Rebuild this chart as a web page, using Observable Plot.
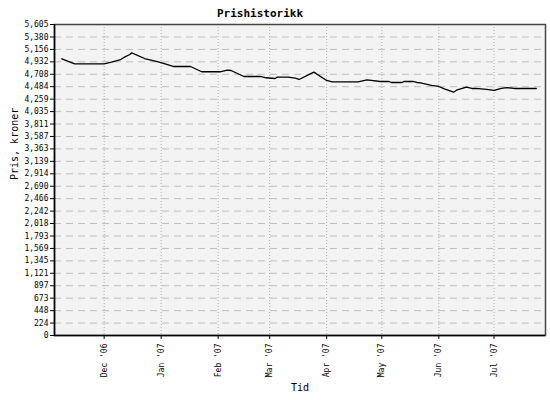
<!DOCTYPE html>
<html>
<head>
<meta charset="utf-8">
<script src="https://cdn.jsdelivr.net/npm/d3@7"></script>
<script src="https://cdn.jsdelivr.net/npm/@observablehq/plot@0.6"></script>
<style>
  html, body { margin: 0; padding: 0; background: #fff; }
  #chart svg { display: block; }
</style>
</head>
<body>
<div id="chart"></div>
<script>
const titleText = "Prishistorikk";
const yLabel = "Pris, kroner";
const xLabel = "Tid";

const dates = [
  "2006-11-08","2006-11-15","2006-12-01","2006-12-05","2006-12-10","2006-12-12","2006-12-15","2006-12-16",
  "2006-12-23","2006-12-31","2007-01-08","2007-01-17","2007-01-23","2007-02-02","2007-02-06","2007-02-08",
  "2007-02-15","2007-02-24","2007-02-27","2007-03-04","2007-03-05","2007-03-11","2007-03-15","2007-03-17",
  "2007-03-25","2007-04-01","2007-04-04","2007-04-18","2007-04-23","2007-04-30","2007-05-05","2007-05-06",
  "2007-05-12","2007-05-13","2007-05-18","2007-05-20","2007-05-22","2007-05-28","2007-06-01","2007-06-04",
  "2007-06-09","2007-06-11","2007-06-16","2007-06-19","2007-06-21","2007-06-27","2007-07-01","2007-07-05",
  "2007-07-08","2007-07-12","2007-07-24"
];
const prices = [
  4987,4897,4897,4926,4974,5016,5064,5095,
  4992,4926,4848,4848,4753,4753,4781,4776,
  4668,4668,4645,4632,4655,4655,4637,4614,
  4746,4596,4572,4572,4608,4578,4578,4560,
  4560,4578,4578,4560,4554,4506,4488,4446,
  4385,4428,4475,4452,4452,4434,4416,4452,
  4468,4452,4452
];

const yTicks = [0,224,448,673,897,1121,1345,1569,1793,2018,2242,2466,2690,2914,3139,3363,3587,3811,4035,4259,4484,4708,4932,5156,5380,5605];
const xTickDates = ["2006-12-01","2007-01-01","2007-02-01","2007-03-01","2007-04-01","2007-05-01","2007-06-01","2007-07-01"];
const xTickLabels = ["Dec '06","Jan '07","Feb '07","Mar '07","Apr '07","May '07","Jun '07","Jul '07"];
const xDomain = ["2006-11-04","2007-07-29"];

const data = dates.map((d, i) => ({date: new Date(d), price: prices[i]}));
const xTicks = xTickDates.map(d => new Date(d));
const labelByTime = new Map(xTicks.map((d, i) => [+d, xTickLabels[i]]));
const gridY = yTicks.filter(v => v > 0 && v < yTicks[yTicks.length - 1]);
const mono = "'DejaVu Sans Mono', monospace";

const chart = Plot.plot({
  width: 550,
  height: 400,
  marginLeft: 54,
  marginRight: 5,
  marginTop: 24,
  marginBottom: 65,
  style: {fontFamily: mono, fontSize: "8px", background: "#fff", color: "#000"},
  x: {type: "utc", domain: xDomain.map(d => new Date(d))},
  y: {domain: [0, 5605]},
  marks: [
    Plot.frame({fill: "#f3f3f3", stroke: "none"}),
    Plot.ruleY(gridY, {stroke: "#bdbdbd", strokeDasharray: "7,5", strokeWidth: 1}),
    Plot.ruleX(xTicks, {stroke: "#aaaaaa", strokeDasharray: "1,2", strokeWidth: 1}),
    Plot.line(data, {x: "date", y: "price", stroke: "#000", strokeWidth: 1.3}),
    Plot.frame({stroke: "#444", strokeWidth: 1.5}),
    Plot.axisY({
      ticks: yTicks, tickSize: 4, tickPadding: 2,
      tickFormat: d3.format(","),
      fontSize: 8,
      label: null
    }),
    Plot.axisX({
      ticks: xTicks, tickSize: 4, tickPadding: 4, tickRotate: -90,
      tickFormat: d => labelByTime.get(+d),
      fontSize: 8,
      label: null
    }),
    Plot.ruleY([0], {stroke: "#000", strokeWidth: 1.5}),
    Plot.ruleX([new Date(xDomain[0])], {stroke: "#000", strokeWidth: 1.5}),
    Plot.text([yLabel], {frameAnchor: "left", dx: -40, rotate: -90, fontSize: 10, fill: "#000"}),
    Plot.text([xLabel], {frameAnchor: "bottom", dy: 55, fontSize: 10, fill: "#000"}),
    Plot.text([titleText], {frameAnchor: "top", dy: -15, dx: -40, fontWeight: "bold", fontSize: 11, fill: "#000"})
  ]
});

document.getElementById("chart").appendChild(chart);
</script>
</body>
</html>
